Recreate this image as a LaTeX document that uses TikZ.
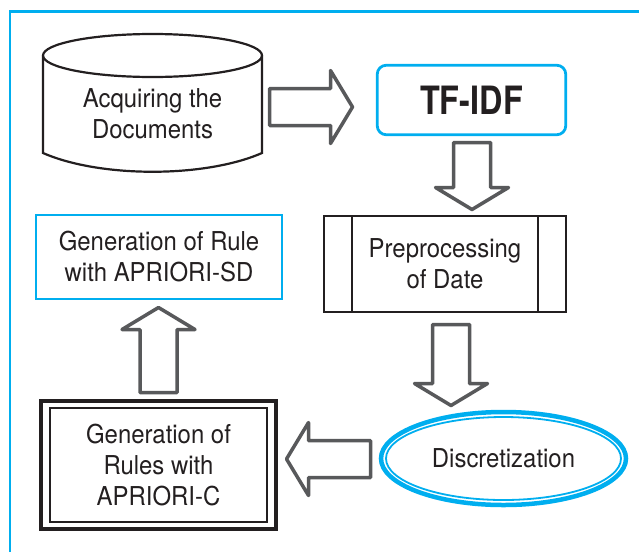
\documentclass[tikz,border=0pt]{standalone}
\usepackage{fontspec}
\setmainfont{TeX Gyre Heros}[FakeStretch=0.92]
\newfontfamily\headfont{TeX Gyre Heros}[FakeStretch=0.83]
\usetikzlibrary{calc,shapes.geometric}

\definecolor{frameblue}{HTML}{00AEEF}
\definecolor{arrowgray}{HTML}{58595B}
\definecolor{ink}{HTML}{231F20}

% hollow block arrow from #1 (tail) to #2 (tip)
\newcommand\blockarrow[2]{%
  \draw[blockline] ($(#1)!18.5pt!90:(#2)$)
    -- ($(#2)!22pt!(#1)!18.5pt!-90:(#1)$)
    -- ($(#2)!22pt!(#1)!36.5pt!-90:(#1)$)
    -- (#2)
    -- ($(#2)!22pt!(#1)!36.5pt!90:(#1)$)
    -- ($(#2)!22pt!(#1)!18.5pt!90:(#1)$)
    -- ($(#1)!18.5pt!-90:(#2)$) -- cycle;}

\begin{document}
\begin{tikzpicture}[x=1pt,y=-1pt,
  every node/.style={text=ink, align=center, inner sep=0pt, outer sep=0pt,
    font=\fontsize{26}{31}\selectfont},
  blockline/.style={draw=arrowgray, line width=3.5pt, fill=white, line join=round},
  bluebox/.style={draw=frameblue, line width=2.8pt},
  blackbox/.style={draw=ink, line width=2.3pt}]
\useasboundingbox (0,0) rectangle (639,552);

% outer frame
\draw[frameblue, line width=2.8pt] (10,552) -- (10,11.5) -- (639,11.5);

% document store (cylinder)
\draw[ink, line width=2.2pt, fill=white] (43,55.5) -- (43,153)
  .. controls (100,178) and (205,178) .. (262,153) -- (262,55.5);
\draw[ink, line width=2.2pt] (152.5,55.5) ellipse [x radius=109.5, y radius=21.5];
\node (acq) [minimum width=219, minimum height=40] at (152.5,114) {Acquiring the\\Documents};

% TF-IDF
\node (tfidf) [bluebox, rounded corners=9pt, minimum width=188.5, minimum height=69.5,
  font=\headfont\bfseries\fontsize{39}{44}\selectfont] at (471.5,100) {TF-IDF};

% preprocessing (predefined process)
\node (prep) [blackbox, minimum width=242, minimum height=96] at (445,264) {Preprocessing\\of Date};
\draw[ink, line width=1.7pt] ($(prep.north west)+(28,0)$) -- ($(prep.south west)+(28,0)$);
\draw[ink, line width=1.7pt] ($(prep.north east)+(-28,0)$) -- ($(prep.south east)+(-28,0)$);

% discretization
\node (disc) [ellipse, draw=frameblue, line width=4.5pt, minimum width=245, minimum height=93]
  at (503.5,458.5) {Discretization};
\draw[frameblue, line width=1.8pt] (disc.center) ellipse [x radius=117.5, y radius=41.5];

% APRIORI-C
\node (apc) [draw=ink, line width=3.8pt, minimum width=235, minimum height=128]
  at (158.5,465) {Generation of\\Rules with\\APRIORI-C};
\draw[ink, line width=1.7pt] ($(apc.south west)+(9,-7)$) rectangle ($(apc.north east)+(-9,7)$);

% APRIORI-SD
\node (apsd) [bluebox, minimum width=246, minimum height=84] at (159,257)
  {Generation of Rule\\with APRIORI-SD};

% connectors
\coordinate (a1s) at ($(acq.east)+(7.5,-7)$);
\coordinate (a1t) at ($(tfidf.west |- a1s)+(-24.75,0)$);
\coordinate (a2s) at ($(tfidf.south)+(0.5,7.75)$);
\coordinate (a2t) at ($(a2s |- prep.north)+(0,-6.5)$);
\coordinate (a3s) at ($(prep.south)+(6,12.5)$);
\coordinate (a3t) at ($(a3s |- disc.north)+(0,-6.5)$);
\coordinate (a4s) at ($(disc.west)+(-10.5,0.5)$);
\coordinate (a4t) at ($(apc.east |- a4s)+(10.5,0)$);
\coordinate (a5s) at ($(apc.north)+(0,-8.5)$);
\coordinate (a5t) at ($(a5s |- apsd.south)+(0,8.5)$);

\blockarrow{a1s}{a1t}
\blockarrow{a2s}{a2t}
\blockarrow{a3s}{a3t}
\blockarrow{a4s}{a4t}
\blockarrow{a5s}{a5t}
\end{tikzpicture}
\end{document}
